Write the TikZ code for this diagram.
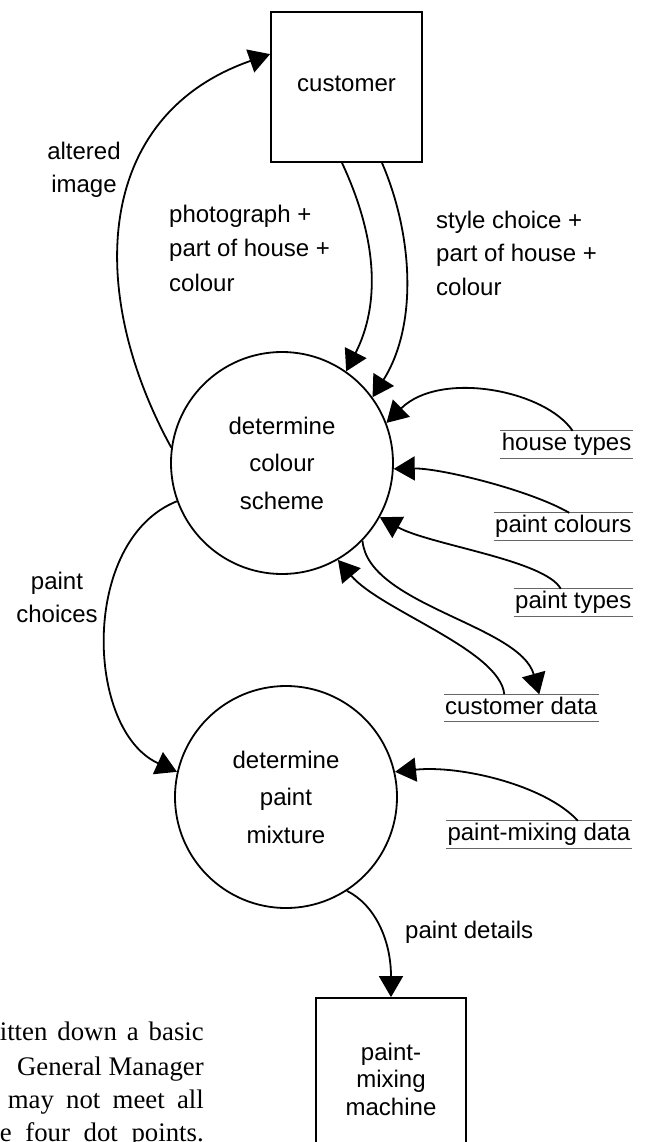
\documentclass[tikz,border=0pt]{standalone}
\usepackage{fontspec}
\setmainfont{Liberation Sans}
\newfontfamily\serifpara{Liberation Serif}
\usetikzlibrary{arrows.meta,calc}
\begin{document}
\begin{tikzpicture}[x=1pt,y=-1pt,
  every node/.style={font=\fontsize{24pt}{34pt}\selectfont},
  flow/.style={line width=1.8pt,-{Triangle[length=21pt,width=24pt]}},
  proc/.style={draw,circle,line width=1.8pt,minimum size=222pt,inner sep=0pt,align=center,font=\fontsize{24pt}{37.5pt}\selectfont},
  ext/.style={draw,rectangle,line width=1.8pt,inner sep=0pt,align=center},
  store/.style={anchor=east,inner xsep=1.5pt,inner ysep=2.5pt,text height=17pt,text depth=5pt},
  storeline/.style={line width=1.2pt,black!60},
  lbl/.style={inner sep=0pt},
  para/.style={inner sep=0pt,anchor=base east,font=\serifpara\fontsize{26.8pt}{33pt}\selectfont}
]
\path[use as bounding box] (0,0) rectangle (646,1142);
\clip (0,0) rectangle (646,1142);

% nodes
\node[ext, minimum width=151pt, minimum height=150pt] (cust) at (346.5,87) {\raisebox{7pt}{customer}};
\node[proc] (cs) at (282,463) {determine\\colour\\scheme};
\node[proc] (pm) at (286,797) {determine\\paint\\mixture};
\node[ext, minimum width=150pt, minimum height=162pt, font=\fontsize{24pt}{27.5pt}\selectfont] (mach) at (391,1079) {paint-\\mixing\\machine};

\node[store] (ht) at (633,444.5) {house types};
\node[store] (pc) at (633,526.5) {paint colours};
\node[store] (pt) at (633,602.5) {paint types};
\node[store] (cd) at (599,708) {customer data};
\node[store] (pmd) at (632,834.5) {paint-mixing data};
\foreach \st in {ht,pc,pt,cd,pmd} {
  \draw[storeline] (\st.north west) -- (\st.north east) (\st.south west) -- (\st.south east);
}

% connectors
\draw[flow] (cs.172) .. controls (85,290) and (95,115) .. ([yshift=-43pt]cust.north west);
\draw[flow] ([xshift=-4.5pt]cust.south) .. controls (378,240) and (380,305) .. (cs.55);
\draw[flow] ([xshift=35.5pt]cust.south) .. controls (413,235) and (418,325) .. (cs.36);
\draw[flow] ([xshift=6pt]ht.north) .. controls (545,390) and (440,370) .. (cs.21);
\draw[flow] ([xshift=6pt]pc.north) .. controls (530,490) and (440,468) .. (cs.-3);
\draw[flow] ([xshift=-12.5pt]pt.north) .. controls (545,560) and (430,545) .. (cs.-29);
\draw[flow] ([xshift=-17pt]cd.north) .. controls (500,650) and (380,610) .. (cs.-60);
\draw[flow] (cs.-44) .. controls (368,605) and (520,625) .. ([xshift=18pt]cd.north);
\draw[flow] (cs.200) .. controls (80,540) and (85,730) .. (pm.167);
\draw[flow] ([xshift=39pt]pmd.north) .. controls (545,785) and (460,765) .. (pm.13);
\draw[flow] (pm.-57) .. controls (375,905) and (391,940) .. (mach.north);

% labels
\node[lbl, align=center, font=\fontsize{24pt}{33pt}\selectfont] (lai) at (84,170) {altered\\image};
\node[lbl, align=left, anchor=west, font=\fontsize{24pt}{34.5pt}\selectfont] (lph) at (169,248) {photograph +\\part of house +\\colour};
\node[lbl, align=left, anchor=west, font=\fontsize{24pt}{33.5pt}\selectfont] (lsc) at (436,253) {style choice +\\part of house +\\colour};
\node[lbl, align=center, font=\fontsize{24pt}{33pt}\selectfont] (lpc) at (57,597) {paint\\choices};
\node[lbl, anchor=west] (lpd) at (405,932) {paint details};

% cut-off paragraph text
\node[para] (p1) at (204,1040) {\makebox[204pt][s]{itten down a basic}};
\node[para] (p2) at (204,1075) {General Manager};
\node[para] (p3) at (204,1108) {\makebox[196pt][s]{may not meet all}};
\node[para] (p4) at (204,1141) {\makebox[204pt][s]{e four dot points.}};
\end{tikzpicture}
\end{document}
